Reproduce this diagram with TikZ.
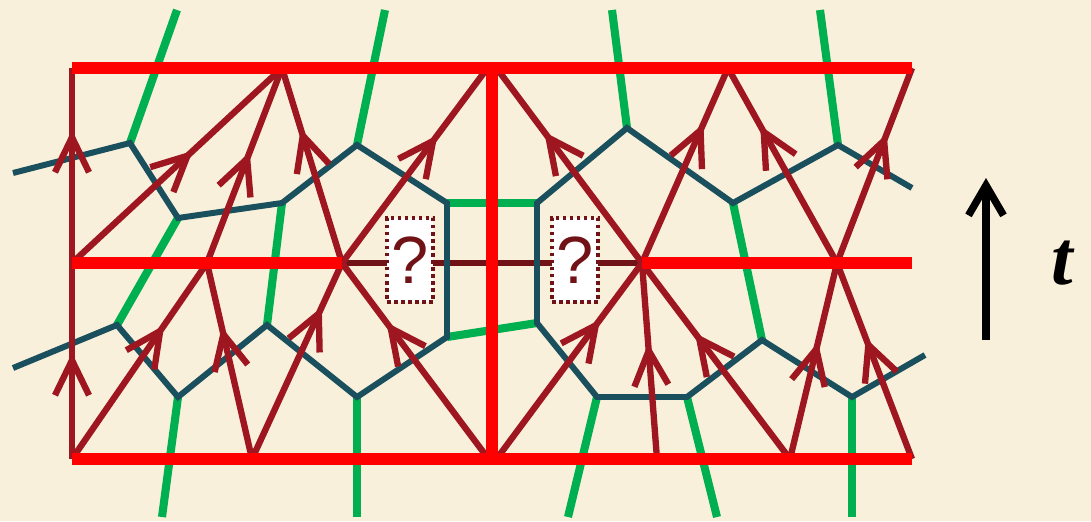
\documentclass[tikz,border=0pt]{standalone}
\usepackage{fontspec}
\setmainfont{Liberation Serif}
\setsansfont{Liberation Sans}
\usetikzlibrary{arrows.meta,decorations.markings}

\definecolor{paper}{RGB}{249,240,219}
\definecolor{bdred}{RGB}{255,0,0}
\definecolor{wline}{RGB}{158,22,32}
\definecolor{mline}{RGB}{112,18,22}
\definecolor{netteal}{RGB}{26,80,94}
\definecolor{netgreen}{RGB}{0,176,80}

\tikzset{
    bdry/.style={draw=bdred, line width=3.3pt},
    wilson/.style={draw=wline, line width=1.8pt},
    net/.style={draw=netteal, line width=1.7pt, line join=miter},
    leg/.style={draw=netgreen, line width=2.3pt},
    midarrow/.style={postaction={decorate},
        decoration={markings, mark=at position #1 with
            {\arrow{Straight Barb[length=3.5mm,width=3.4mm]}}}},
    qbox/.style={draw=mline, fill=white, line width=1.1pt,
        dash pattern=on 1pt off 1pt, minimum width=0.46cm,
        minimum height=0.84cm, inner sep=0pt, text=mline,
        font=\sffamily\fontsize{19}{21}\selectfont},
}

\begin{document}
\begin{tikzpicture}[x=0.01cm, y=-0.01cm]

    % фон
    \fill[paper] (0,0) rectangle (1091,521);
    \useasboundingbox (0,0) rectangle (1091,521);

    % вершины на границах
    \coordinate (tl) at (72,68);
    \coordinate (t1) at (282,68);
    \coordinate (t2l) at (486,70);
    \coordinate (t2r) at (498,70);
    \coordinate (t3) at (728,68);
    \coordinate (t4) at (912,68);
    \coordinate (tc) at (492,68);

    \coordinate (m0) at (72,263);
    \coordinate (m1) at (207,263);
    \coordinate (m2) at (342,263);
    \coordinate (m3) at (642,263);
    \coordinate (m4) at (837,263);
    \coordinate (m5) at (912,263);

    \coordinate (b0) at (72,459);
    \coordinate (b1) at (252,459);
    \coordinate (b2l) at (487,457);
    \coordinate (b2r) at (498,457);
    \coordinate (b3) at (657,459);
    \coordinate (b4) at (790,459);
    \coordinate (b5) at (912,459);
    \coordinate (bc) at (492,459);

    % сеть, верхний слой
    \coordinate (p1) at (13,173);
    \coordinate (p2) at (130,143);
    \coordinate (p3) at (178,218);
    \coordinate (p4) at (282,203);
    \coordinate (p5) at (357,145);
    \coordinate (p6) at (447,203);
    \coordinate (p7) at (537,203);
    \coordinate (p8) at (627,128);
    \coordinate (p9) at (733,203);
    \coordinate (p10) at (838,145);
    \coordinate (p11) at (912,188);

    % сеть, нижний слой
    \coordinate (q1) at (13,368);
    \coordinate (q2) at (117,325);
    \coordinate (q3) at (178,397);
    \coordinate (q4) at (267,325);
    \coordinate (q5) at (357,397);
    \coordinate (q6) at (447,337);
    \coordinate (q7) at (537,323);
    \coordinate (q8) at (597,397);
    \coordinate (q9) at (687,397);
    \coordinate (q10) at (762,340);
    \coordinate (q11) at (852,397);
    \coordinate (q12) at (925,355);

    % свободные концы ножек
    \coordinate (g1) at (177,10);
    \coordinate (g2) at (385,10);
    \coordinate (g3) at (612,10);
    \coordinate (g4) at (820,10);
    \coordinate (g5) at (162,517);
    \coordinate (g6) at (357,517);
    \coordinate (g7) at (568,517);
    \coordinate (g8) at (717,517);
    \coordinate (g9) at (852,517);

    % зелёные ножки
    \foreach \a/\b in {p2/g1, p5/g2, p8/g3, p10/g4, q3/g5, q5/g6, q8/g7,
        q9/g8, q11/g9, p3/q2, p4/q4, p9/q10, p6/p7, q6/q7}
        \draw[leg] (\a) -- (\b);

    % средняя линия
    \draw[mline, line width=1.5pt] (m2) -- (m3);

    % сеть
    \draw[net] (p1) -- (p2) -- (p3) -- (p4) -- (p5) -- (p6) -- (q6)
        -- (q5) -- (q4) -- (q3) -- (q2) -- (q1);
    \draw[net] (p11) -- (p10) -- (p9) -- (p8) -- (p7) -- (q7) -- (q8)
        -- (q9) -- (q10) -- (q11) -- (q12);

    % линии со стрелками
    \draw[wilson, midarrow=0.682] (m0) -- (tl);
    \draw[wilson, midarrow=0.541] (b0) -- (m0);
    \foreach \a/\b/\p in {m0/t1/0.576, m1/t1/0.57, m2/t1/0.689,
        m2/t2l/0.663, m3/t2r/0.679, m3/t3/0.715, m4/t3/0.705,
        m4/t4/0.663, b0/m1/0.684, b1/m1/0.673, b1/m2/0.776,
        b2l/m2/0.694, b2r/m3/0.709, b3/m3/0.59, b4/m3/0.643,
        b4/m4/0.597, b5/m4/0.617}
        \draw[wilson, midarrow=\p] (\a) -- (\b);

    % границы
    \draw[bdry] (tl) -- (t4);
    \draw[bdry] (b0) -- (b5);
    \draw[bdry] (m0) -- (m2);
    \draw[bdry] (m3) -- (m5);
    \draw[bdry] (tc) -- (bc);

    % вопросы
    \node[qbox] (qleft) at (410,260) {?};
    \node[qbox] (qright) at (575,260) {?};

    % время
    \coordinate (ts) at (986,340);
    \coordinate (te) at (986,178);
    \draw[line width=2.1pt, -{Straight Barb[length=3mm,width=3.5mm]}] (ts) -- (te);
    \node[font=\fontsize{22}{26}\selectfont\bfseries\itshape] (tlab) at (1062,263) {t};

\end{tikzpicture}
\end{document}
